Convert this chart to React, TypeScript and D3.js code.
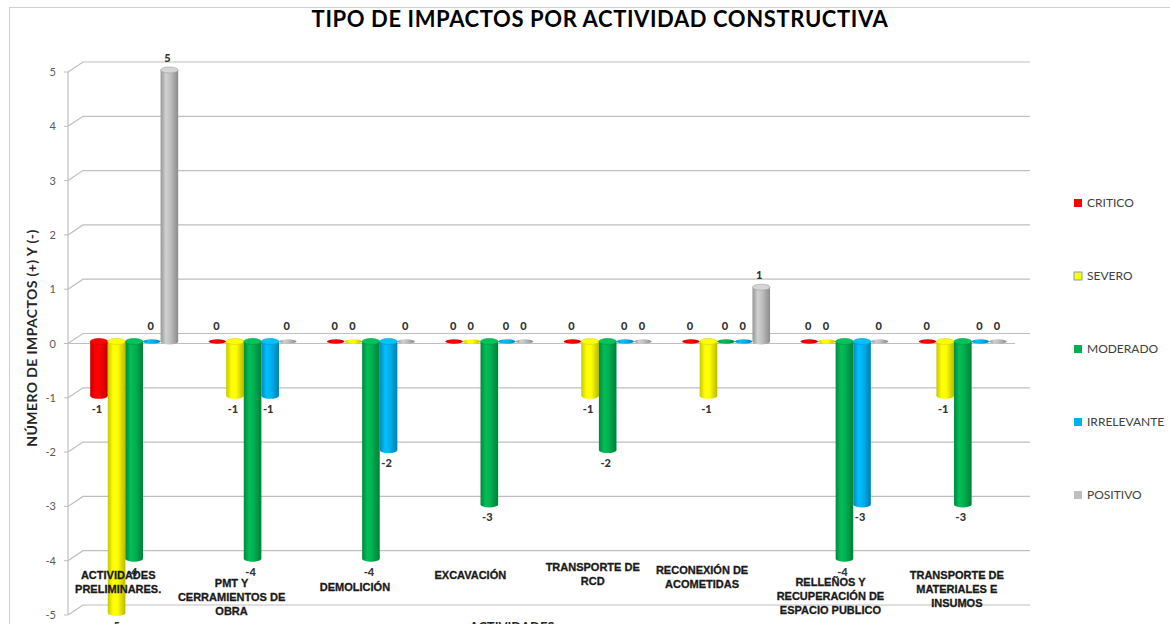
import React from "react";
import * as d3 from "d3";

const categoryLines: string[][] = [
  ["ACTIVIDADES", "PRELIMINARES."],
  ["PMT Y", "CERRAMIENTOS DE", "OBRA"],
  ["DEMOLICIÓN"],
  ["EXCAVACIÓN"],
  ["TRANSPORTE DE", "RCD"],
  ["RECONEXIÓN DE", "ACOMETIDAS"],
  ["RELLEÑOS Y", "RECUPERACIÓN DE", "ESPACIO PUBLICO"],
  ["TRANSPORTE DE", "MATERIALES E", "INSUMOS"],
];
const categories = categoryLines.map((l) => l.join(" "));

const seriesNames = ["CRITICO", "SEVERO", "MODERADO", "IRRELEVANTE", "POSITIVO"];
const critico = [-1, 0, 0, 0, 0, 0, 0, 0];
const severo = [-5, -1, 0, 0, -1, -1, 0, -1];
const moderado = [-4, -4, -4, -3, -2, 0, -4, -3];
const irrelevante = [0, -1, -2, 0, 0, 0, -3, 0];
const positivo = [5, 0, 0, 0, 0, 1, 0, 0];
const seriesValues = [critico, severo, moderado, irrelevante, positivo];
const yTicks = [5, 4, 3, 2, 1, 0, -1, -2, -3, -4, -5];

const seriesColors = ["#FF0000", "#FFFF00", "#00B050", "#00B0F0", "#BFBFBF"];

// layout-only adjustments for category label placement (dx from band center, first baseline)
const labelLayout: [number, number][] = [
  [-9, 579], [-14, 587], [-9, 591], [-12, 579], [-8, 571], [-17, 574], [-7, 586], [1, 579],
];

const X0 = 68, X1 = 1015, DX = 15, DY = -10;

export default function App() {
  const y = d3.scaleLinear().domain([-5, 5]).range([615, 72]);
  const x = d3.scaleBand<string>().domain(categories).range([X0, X1]).paddingInner(0);
  const xs = d3.scaleBand<string>().domain(seriesNames).range([-44, 44]).paddingInner(0);
  const by = (v: number) => y(v) - 2;
  const bw = xs.bandwidth();
  const rx = bw / 2;
  const ry = 3;

  const grads = seriesColors.map((c, i) => {
    const col = d3.color(c)!;
    return (
      <linearGradient key={i} id={`g${i}`} x1="0" x2="1" y1="0" y2="0">
        <stop offset="0%" stopColor={col.darker(0.7).formatHex()} />
        <stop offset="30%" stopColor={col.brighter(0.25).formatHex()} />
        <stop offset="55%" stopColor={c} />
        <stop offset="100%" stopColor={col.darker(0.9).formatHex()} />
      </linearGradient>
    );
  });

  const bars: React.ReactNode[] = [];
  const labels: React.ReactNode[] = [];
  categories.forEach((cat, ci) => {
    seriesNames.forEach((s, si) => {
      const v = seriesValues[si][ci];
      const cx = (x(cat) ?? 0) + x.bandwidth() / 2 + 7 + (xs(s) ?? 0) + bw / 2;
      const left = cx - rx;
      const y0 = by(0);
      const col = d3.color(seriesColors[si])!;
      if (v === 0) {
        bars.push(
          <ellipse key={`b${ci}-${si}`} cx={cx} cy={y0} rx={rx} ry={2.2} fill={`url(#g${si})`} />
        );
        labels.push(
          <text key={`l${ci}-${si}`} x={cx - 1} y={y0 - 12} textAnchor="middle" fontSize={11} fontWeight="900" fill="#333" fontFamily="Lato">0</text>
        );
      } else {
        const yv = by(v);
        const top = Math.min(y0, yv);
        const bot = Math.max(y0, yv);
        bars.push(
          <g key={`b${ci}-${si}`}>
            <rect x={left} y={top} width={bw} height={bot - top} fill={`url(#g${si})`} />
            <ellipse cx={cx} cy={bot} rx={rx} ry={ry} fill={`url(#g${si})`} />
            <ellipse cx={cx} cy={top} rx={rx} ry={ry} fill={col.brighter(0.3).formatHex()} stroke={col.darker(0.5).formatHex()} strokeWidth={0.6} />
          </g>
        );
        labels.push(
          <text key={`l${ci}-${si}`} x={cx - 2} y={v > 0 ? yv - 8 : yv + 17} textAnchor="middle" fontSize={11} fontWeight="900" fill="#333" fontFamily="Lato">{v}</text>
        );
      }
    });
  });

  return (
    <svg width={1170} height={624} style={{ position: "absolute", left: 0, top: 0, background: "#fff" }} fontFamily="Lato">
      <defs>{grads}</defs>
      <rect x={9.5} y={7.5} width={1200} height={700} fill="#fff" stroke="#d0d0d0" />
      <text x={600} y={27} textAnchor="middle" fontSize={22} fontWeight="bold" letterSpacing={0.6} fill="#000">TIPO DE  IMPACTOS POR ACTIVIDAD CONSTRUCTIVA</text>

      {/* gridlines */}
      {yTicks.map((t) => (
        <g key={`t${t}`}>
          <path d={`M${X0},${y(t)} L${X0 + DX},${y(t) + DY} L${X1 + DX},${y(t) + DY}`} fill="none" stroke="#bfbfbf" strokeWidth={1.2} />
          <line x1={X0 - 4} x2={X0} y1={y(t)} y2={y(t)} stroke="#bfbfbf" />
          <text x={56} y={y(t) + 4} textAnchor="end" fontSize={11} fill="#595959">{t}</text>
        </g>
      ))}
      <line x1={X0} x2={X0} y1={y(5)} y2={y(-5)} stroke="#bfbfbf" strokeWidth={1.2} />
      <line x1={X0} x2={X1} y1={y(0)} y2={y(0)} stroke="#bfbfbf" strokeWidth={1.2} />

      {bars}
      {labels}

      {categoryLines.map((lines, ci) => {
        const cx = (x(categories[ci]) ?? 0) + x.bandwidth() / 2 + labelLayout[ci][0];
        return (
          <text key={`c${ci}`} textAnchor="middle" fontSize={11} fontWeight="bold" fill="#1a1a1a" fontFamily="Liberation Sans" stroke="#1a1a1a" strokeWidth={0.3}>
            {lines.map((ln, li) => (
              <tspan key={li} x={cx} y={labelLayout[ci][1] + li * 14}>{ln}</tspan>
            ))}
          </text>
        );
      })}

      <text transform="translate(37,338) rotate(-90)" textAnchor="middle" fontSize={14} fontWeight="bold" letterSpacing={0.4} fill="#262626">NÚMERO  DE IMPACTOS (+) Y (-)</text>
      <text x={512} y={632} textAnchor="middle" fontSize={13} fontWeight="bold" fill="#262626">ACTIVIDADES</text>

      {seriesNames.map((s, si) => {
        const ly = 203 + si * 73;
        return (
          <g key={`lg${si}`}>
            <rect x={1074} y={ly - 4} width={8} height={8} fill={seriesColors[si]} stroke={si === 1 ? "#7f9fbf" : "none"} strokeWidth={1} />
            <text x={1087} y={ly + 4} fontSize={12} fill="#404040">{s}</text>
          </g>
        );
      })}
    </svg>
  );
}
